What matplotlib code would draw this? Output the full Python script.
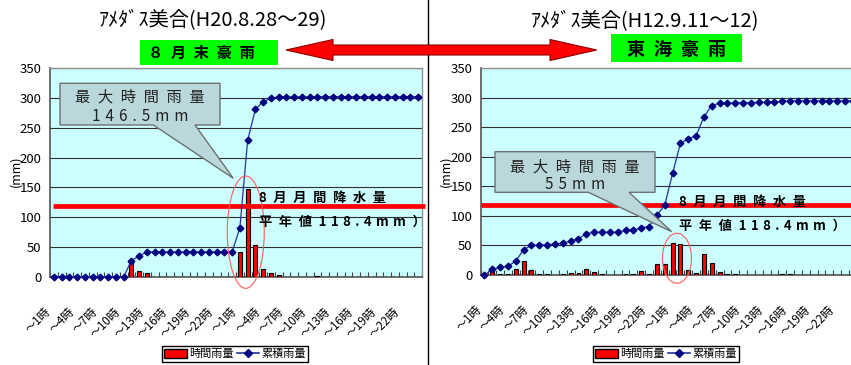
import numpy as np
import matplotlib
matplotlib.use("Agg")
import matplotlib.pyplot as plt
import matplotlib.transforms as mtransforms
from matplotlib.patches import Ellipse, Polygon, Rectangle, Patch
from matplotlib.lines import Line2D

# ---------------------------------------------------------------- data
hours = list(range(1, 49))
label_hours = [1, 4, 7, 10, 13, 16, 19, 22, 25, 28, 31, 34, 37, 40, 43, 46]
label_texts = ["～1時", "～4時", "～7時", "～10時", "～13時", "～16時", "～19時", "～22時",
               "～1時", "～4時", "～7時", "～10時", "～13時", "～16時", "～19時", "～22時"]

# 2008-08-28 .. 29 (H20), Misato AMeDAS
aug_hourly = [0, 0, 0, 0, 0, 0, 0, 0, 0, 0,
              27, 9, 5.5, 0, 0, 0, 0, 0, 0, 0,
              0, 0, 0, 0, 41, 146.5, 53, 13.5, 6.5, 2.5,
              0, 0, 0, 0, 1, 0, 0, 0, 0, 0,
              0, 0, 0, 0, 0, 0, 0, 0]
aug_cum = [0, 0, 0, 0, 0, 0, 0, 0, 0, 0,
           27, 35, 41.5, 41.5, 41.5, 41.5, 41.5, 41.5, 41.5, 41.5,
           41.5, 41.5, 41.5, 41.5, 82, 229, 281, 294, 299.5, 302,
           302, 302, 302, 302, 302.5, 302.5, 302.5, 302.5, 302.5, 302.5,
           302.5, 302.5, 302.5, 302.5, 302.5, 302.5, 302.5, 302.5]

# 2000-09-11 .. 12 (H12), Tokai heavy rain
tokai_hourly = [0, 10, 2, 2, 10, 24, 8.5, 2, 2, 0,
                2, 4, 4, 9.5, 5, 2, 0, 0, 2, 2,
                7, 2, 18.5, 18.5, 55, 53, 8.5, 4, 35, 20,
                5, 2, 1, 0, 0, 0, 0, 0, 1.5, 1.5,
                0, 0, 0, 0, 0, 0, 0, 0]
tokai_cum = [0, 9.6, 13, 14.7, 23.5, 43, 50.2, 50.2, 51.5, 52.2,
             54, 57.5, 61.3, 70, 72.5, 72.5, 72.5, 72.5, 75.7, 75.7,
             80, 82, 101.5, 118, 172, 223, 231, 235.5, 268, 287,
             290.7, 290.7, 291.8, 291.8, 291.8, 292.4, 292.4, 293, 293.8, 294.7,
             294.7, 294.7, 294.7, 294.7, 294.7, 294.7, 294.7, 294.7]

aug_normal = 118.4   # August monthly normal precipitation (mm)

# ---------------------------------------------------------------- helpers
W, H = 851, 365
CJK = ["Noto Sans CJK JP", "DejaVu Sans"]
NARROW = ["Liberation Sans Narrow", "Noto Sans CJK JP", "DejaVu Sans"]


def fx(x):
    return x / W


def fy(y):
    return 1 - y / H


def px_rect(x0, x1, y0, y1):
    return [x0 / W, 1 - y1 / H, (x1 - x0) / W, (y1 - y0) / H]


def spaced(s):
    """Widen the letter spacing the way the callout captions are set."""
    out = s[0]
    for a, b in zip(s, s[1:]):
        wide = ord(a) > 0x2E80 or ord(b) > 0x2E80
        out += ("\u2002" if wide else "\u2004") + b
    return out


def fmt(v):
    return f"{v:g}"


fig = plt.figure(figsize=(W / 100, H / 100), dpi=100)
fig.patch.set_facecolor("white")

ax_l = fig.add_axes(px_rect(50, 422, 68.3, 276.7))
ax_r = fig.add_axes(px_rect(480.5, 856.8, 68.3, 275))


def draw_chart(ax, hourly, cum, line_x):
    ax.set_facecolor("#CCFFFF")
    ax.set_xlim(0.5, 48.5)
    ax.set_ylim(0, 350)
    ax.set_yticks(range(0, 351, 50), labels=[str(v) for v in range(0, 351, 50)],
                  fontsize=9.5, family=NARROW)
    ax.yaxis.grid(True, color="#303030", lw=0.8)
    ax.set_axisbelow(True)
    for side in ("left", "bottom"):
        ax.spines[side].set_color("#555555")
        ax.spines[side].set_linewidth(1.2)
    for side in ("top", "right"):
        ax.spines[side].set_color("#909090")
        ax.spines[side].set_linewidth(1.0)

    ax.bar(hours, hourly, width=0.5, color="#FF0000", edgecolor="black",
           linewidth=0.8, zorder=3)
    # monthly normal reference line
    tr = mtransforms.blended_transform_factory(ax.transAxes, ax.transData)
    ax.plot(line_x, [aug_normal, aug_normal], transform=tr, color="#FF0000",
            lw=3.4, solid_capstyle="butt", clip_on=False, zorder=4)
    ax.plot(hours, cum, color="#2233A0", lw=0.9, marker="D", ms=3.4,
            mfc="#000080", mec="#000080", zorder=5, clip_on=False)

    ax.set_xticks(np.arange(0.5, 48.6, 1))
    ax.tick_params(axis="x", direction="in", length=3.5, width=0.8,
                   color="#404040", labelbottom=False)
    ax.tick_params(axis="y", length=0, pad=6)

    base = mtransforms.blended_transform_factory(ax.transData, ax.transAxes)
    off = mtransforms.ScaledTranslation(-5 / 100, -33 / 100, fig.dpi_scale_trans)
    for h, t in zip(label_hours, label_texts):
        ax.text(h, 0, t, transform=base + off, rotation=45, rotation_mode="anchor",
                ha="right", va="center", fontsize=8.5, family=CJK)


draw_chart(ax_l, aug_hourly, aug_cum, [0.007, 1.008])
draw_chart(ax_r, tokai_hourly, tokai_cum, [0.0, 1.0])

# circles around the peak hours
ax_l.add_patch(Ellipse((25.76, 74.8), 4.77, 188.6, fill=False, ec="#FF5A5A",
                       lw=0.8, clip_on=False, zorder=6))
ax_r.add_patch(Ellipse((25.56, 28.3), 3.7, 84.7, fill=False, ec="#FF5A5A",
                       lw=0.8, clip_on=False, zorder=6))


def callout(box, base_x, tip, lines, cx, ys):
    x0, y0, x1, y1 = box
    pts = [(x0, y0), (x1, y0), (x1, y1), (base_x[1], y1), tip, (base_x[0], y1), (x0, y1)]
    fig.add_artist(Polygon([(fx(a), fy(b)) for a, b in pts], closed=True,
                           transform=fig.transFigure, facecolor="#BAD8DC",
                           edgecolor="#707070", lw=1.0, zorder=7))
    for s, y in zip(lines, ys):
        fig.text(fx(cx), fy(y), spaced(s), ha="center", va="center", fontsize=11,
                 family=CJK, color="#222222", zorder=8)


callout((60, 83.3, 220, 125), (153.3, 195), (233.3, 178.3),
        ["最大時間雨量", fmt(max(aug_hourly)) + "mm"], 140, (97.3, 116.5))
callout((495, 151.7, 655, 192.3), (588.3, 629), (671.7, 231.7),
        ["最大時間雨量", fmt(max(tokai_hourly)) + "mm"], 575, (166.7, 184.5))

# normal-value captions
for x, y1, y2 in ((259, 197.5, 221.7), (679, 201.5, 225.7)):
    fig.text(fx(x), fy(y1), spaced("8月月間降水量"), ha="left", va="center",
             fontsize=9.5, fontweight="bold", family=CJK, zorder=8)
    fig.text(fx(x), fy(y2), spaced("平年値" + fmt(aug_normal) + "mm）"), ha="left",
             va="center", fontsize=9.5, fontweight="bold", family=CJK, zorder=8)

# titles
fig.text(fx(212.5), fy(21), "ｱﾒﾀﾞｽ美合(H20.8.28～29)", ha="center", va="center",
         fontsize=14.5, family=NARROW)
fig.text(fx(645), fy(21.5), "ｱﾒﾀﾞｽ美合(H12.9.11～12)", ha="center", va="center",
         fontsize=14.5, family=NARROW)

# green event labels
fig.add_artist(Rectangle((fx(140), fy(65)), (277.7 - 140) / W, 25 / H,
                         transform=fig.transFigure, facecolor="#00FF00",
                         edgecolor="none", zorder=2))
fig.text(fx(201.5), fy(52.5), "８\u2002月\u2002末\u2002豪\u2002雨", ha="center", va="center",
         fontsize=11, fontweight="bold", family=CJK, zorder=3)
fig.add_artist(Rectangle((fx(611), fy(62.3)), (742.3 - 611) / W, 28 / H,
                         transform=fig.transFigure, facecolor="#00FF00",
                         edgecolor="none", zorder=2))
fig.text(fx(676.7), fy(49), "東\u2002海\u2002豪\u2002雨", ha="center", va="center",
         fontsize=13, fontweight="bold", family=CJK, zorder=3)

# divider between the two panels
fig.add_artist(Line2D([fx(428), fx(428)], [0, 1], transform=fig.transFigure,
                      color="black", lw=1.0, zorder=1))

# double-headed arrow linking the two events
arrow = [(286, 50), (333, 39.5), (333, 45), (550, 45), (550, 39.5), (596.7, 50),
         (550, 60.5), (550, 55), (333, 55), (333, 60.5)]
fig.add_artist(Polygon([(fx(a), fy(b)) for a, b in arrow], closed=True,
                       transform=fig.transFigure, facecolor="#FF0000",
                       edgecolor="#8B0000", lw=0.8, zorder=4))

# y-axis unit labels
for x in (16, 446):
    fig.text(fx(x), fy(171.7), "(mm)", rotation=90, ha="center", va="center",
             fontsize=9, family=CJK)

# legends
handles = [Patch(facecolor="#FF0000", edgecolor="black", lw=1.0),
           Line2D([], [], color="#2233A0", lw=1.2, marker="D", ms=3.6,
                  mfc="#000080", mec="#000080")]
for cx in (235, 666):
    leg = fig.legend(handles, ["時間雨量", "累積雨量"], loc="center",
                     bbox_to_anchor=(fx(cx), fy(354)), ncol=2, frameon=True,
                     fancybox=False, edgecolor="black", framealpha=1,
                     prop={"family": CJK, "size": 8}, handlelength=2.0,
                     handleheight=0.9, handletextpad=0.2, columnspacing=0.3,
                     borderpad=0.25, borderaxespad=0)
    leg.get_frame().set_linewidth(1.0)

fig.savefig("out.png", dpi=100)
